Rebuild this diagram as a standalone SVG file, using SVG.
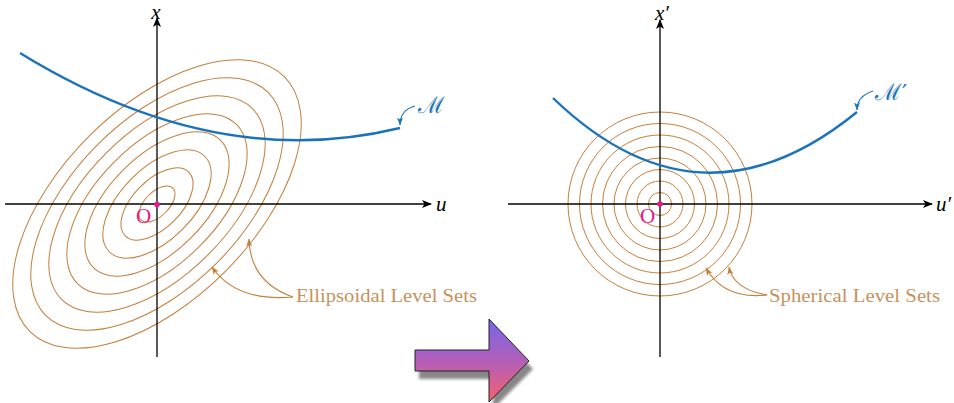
<svg xmlns="http://www.w3.org/2000/svg" width="954" height="403" viewBox="0 0 954 403">
<style>
.axis{stroke:#000;stroke-width:1.3;fill:none}
.lvl{stroke:#c47f3c;stroke-width:1;fill:none}
.curve{stroke:#1a73ba;stroke-width:2.4;fill:none}
.ptrB{stroke:#1a73ba;stroke-width:1.1;fill:none}
.ptrO{stroke:#c47f3c;stroke-width:1.1;fill:none}
.math{font-family:"Liberation Serif","DejaVu Serif",serif;font-style:italic;font-size:21px;fill:#000}
.mlab{font-family:"DejaVu Serif","Liberation Serif",serif;font-size:23px;fill:#1a73ba}
.orig{font-family:"Liberation Serif","DejaVu Serif",serif;font-size:21px;fill:#e8178a}
.lbl{font-family:"Liberation Serif","DejaVu Serif",serif;font-size:18px;fill:#c8915c}
</style>
<defs>
<marker id="ax" viewBox="0 0 10 8" refX="9" refY="4" markerWidth="10" markerHeight="8" markerUnits="userSpaceOnUse" orient="auto">
<path d="M0,0 L10,4 L0,8 L2.5,4 z" fill="#000"/>
</marker>
<marker id="hb" viewBox="0 0 8 6" refX="7.5" refY="3" markerWidth="8" markerHeight="6" markerUnits="userSpaceOnUse" orient="auto">
<path d="M0,0 L8,3 L0,6 L2,3 z" fill="#1a73ba"/>
</marker>
<marker id="ho" viewBox="0 0 8 6" refX="7.5" refY="3" markerWidth="8" markerHeight="6" markerUnits="userSpaceOnUse" orient="auto">
<path d="M0,0 L8,3 L0,6 L2,3 z" fill="#c47f3c"/>
</marker>
<linearGradient id="ag" x1="0" y1="0" x2="0" y2="1">
<stop offset="0" stop-color="#7467ec"/>
<stop offset="0.5" stop-color="#b25fb9"/>
<stop offset="1" stop-color="#f5606e"/>
</linearGradient>
<filter id="blur" x="-10%" y="-10%" width="120%" height="130%">
<feGaussianBlur stdDeviation="1.6"/>
</filter>
</defs>

<g id="left-levelsets" transform="translate(157,204) rotate(-45)">
<ellipse class="lvl" rx="22.5" ry="12"/>
<ellipse class="lvl" rx="45" ry="24"/>
<ellipse class="lvl" rx="67.5" ry="36"/>
<ellipse class="lvl" rx="90" ry="48"/>
<ellipse class="lvl" rx="112.5" ry="60"/>
<ellipse class="lvl" rx="135" ry="72"/>
<ellipse class="lvl" rx="157.5" ry="84"/>
<ellipse class="lvl" rx="180" ry="96"/>
</g>

<g id="right-levelsets">
<circle class="lvl" cx="660" cy="204" r="11.5"/>
<circle class="lvl" cx="660" cy="204" r="23"/>
<circle class="lvl" cx="660" cy="204" r="34.5"/>
<circle class="lvl" cx="660" cy="204" r="46"/>
<circle class="lvl" cx="660" cy="204" r="57.5"/>
<circle class="lvl" cx="660" cy="204" r="69"/>
<circle class="lvl" cx="660" cy="204" r="80.5"/>
<circle class="lvl" cx="660" cy="204" r="92"/>
</g>

<g id="left-axes">
<line class="axis" x1="5" y1="204" x2="431" y2="204" marker-end="url(#ax)"/>
<line class="axis" x1="157" y1="357" x2="157" y2="18" marker-end="url(#ax)"/>
<text class="math" x="436" y="211">u</text>
<text class="math" x="156" y="19" text-anchor="middle">x</text>
</g>

<g id="right-axes">
<line class="axis" x1="508" y1="204" x2="932" y2="204" marker-end="url(#ax)"/>
<line class="axis" x1="660" y1="357" x2="660" y2="20" marker-end="url(#ax)"/>
<text class="math" x="936" y="211">u′</text>
<text class="math" x="662" y="20" text-anchor="middle">x′</text>
</g>

<g id="manifold-M">
<path class="curve" d="M20,53 Q215,173 400,128"/>
<text class="mlab" x="418" y="113">ℳ</text>
</g>

<g id="manifold-Mprime">
<path class="curve" d="M553,98 Q700,240 857,112"/>
<text class="mlab" x="875" y="100">ℳ′</text>
</g>

<g id="origin-left">
<circle cx="157" cy="204.5" r="2.8" fill="#e8178a"/>
<text class="orig" x="136" y="223">O</text>
</g>

<g id="origin-right">
<circle cx="660" cy="204" r="2.8" fill="#e8178a"/>
<text class="orig" x="640" y="223">O</text>
</g>

<g id="label-ellipsoidal">
<text class="lbl" x="296" y="302" textLength="181" lengthAdjust="spacingAndGlyphs">Ellipsoidal Level Sets</text>
</g>

<g id="label-spherical">
<text class="lbl" x="769" y="302" textLength="171" lengthAdjust="spacingAndGlyphs">Spherical Level Sets</text>
</g>

<g id="transform-arrow">
<polygon points="419,358 493,358 493,327 533,369 493,409 493,379 419,379" fill="#6a6a6a" opacity="0.8" filter="url(#blur)"/>
<polygon points="415,350 489,350 489,319 529,361 489,402 489,371 415,371" fill="url(#ag)" stroke="#222" stroke-width="1"/>
</g>

<g id="connectors">
<path class="ptrB" d="M415,106 Q400,110 400,125" marker-end="url(#hb)"/>
<path class="ptrB" d="M873,91 Q857,96 857,110" marker-end="url(#hb)"/>
<path class="ptrO" d="M293,297 Q236,302 212,267" marker-end="url(#ho)"/>
<path class="ptrO" d="M293,297 Q250,282 249,239" marker-end="url(#ho)"/>
<path class="ptrO" d="M767,295 Q724,300 706,268" marker-end="url(#ho)"/>
<path class="ptrO" d="M767,295 Q733,289 729,267" marker-end="url(#ho)"/>
</g>
</svg>
